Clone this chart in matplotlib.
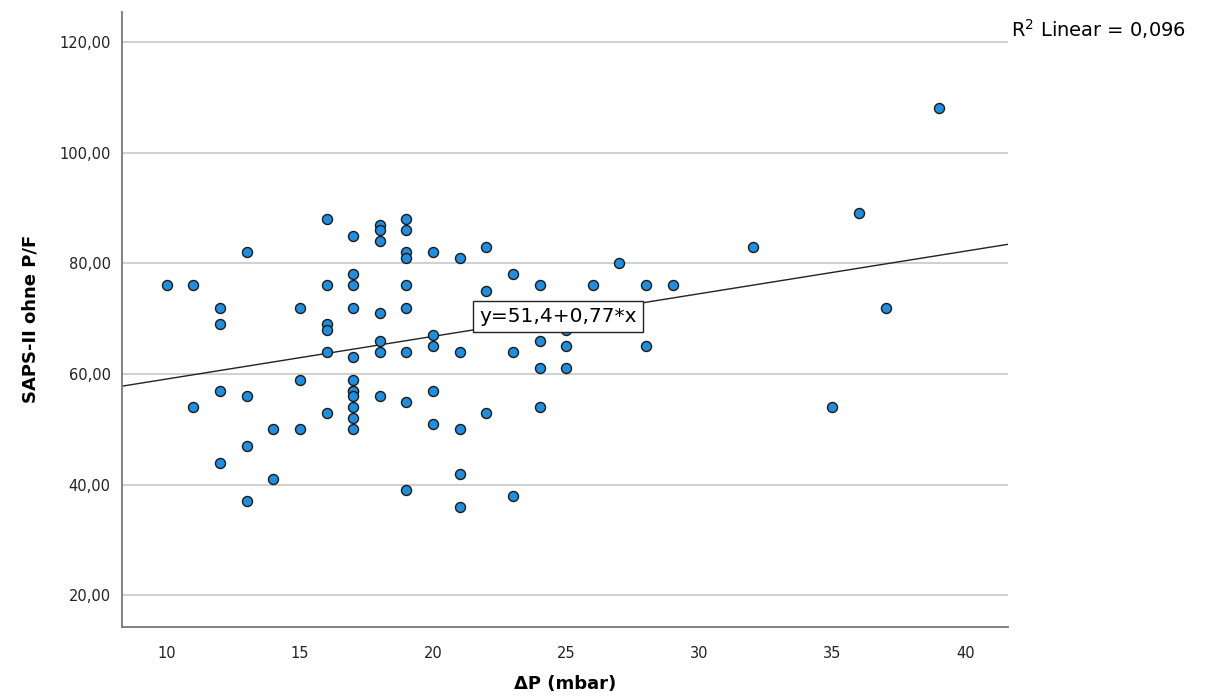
import matplotlib.pyplot as plt
from matplotlib.ticker import FuncFormatter

# Data (delta P in mbar, SAPS-II without P/F)
dp = [10,
      11, 11,
      12, 12, 12, 12,
      13, 13, 13, 13,
      14, 14,
      15, 15, 15,
      16, 16, 16, 16, 16, 16,
      17, 17, 17, 17, 17, 17, 17, 17, 17, 17, 17, 17,
      18, 18, 18, 18, 18, 18, 18,
      19, 19, 19, 19, 19, 19, 19, 19, 19,
      20, 20, 20, 20, 20,
      21, 21, 21, 21, 21,
      22, 22, 22,
      23, 23, 23,
      24, 24, 24, 24,
      25, 25, 25,
      26, 27, 28, 28, 29, 32, 35, 36, 37, 39]
saps = [76,
        76, 54,
        72, 69, 57, 44,
        82, 56, 47, 37,
        50, 41,
        72, 59, 50,
        88, 76, 69, 68, 64, 53,
        85, 78, 76, 72, 63, 59, 57, 57, 56, 54, 52, 50,
        87, 86, 84, 71, 66, 64, 56,
        88, 86, 82, 81, 76, 72, 64, 55, 39,
        82, 67, 65, 57, 51,
        81, 64, 50, 42, 36,
        83, 75, 53,
        78, 64, 38,
        76, 66, 61, 54,
        68, 65, 61,
        76, 80, 76, 65, 76, 83, 54, 89, 72, 108]

# Fit line as printed on the chart
intercept = 51.4
slope = 0.77
r2 = 0.096

x_ticks = [10, 15, 20, 25, 30, 35, 40]
y_ticks = [20, 40, 60, 80, 100, 120]

fig = plt.figure(figsize=(12.06, 7), dpi=100)
ax = fig.add_axes([0.101, 0.105, 0.735, 0.878])

ax.set_xlim(8.31, 41.6)
ax.set_ylim(14.4, 125.4)

ax.grid(axis='y', color='#c8c8c8', linewidth=1.2, zorder=0)
ax.set_axisbelow(True)

# regression line across full x-range
xl = ax.get_xlim()
ax.plot(xl, [intercept + slope * v for v in xl], color='#222222', linewidth=1, zorder=2)

ax.scatter(dp, saps, s=52, color='#1e8fe0', edgecolors='#1a1a1a', linewidths=1, zorder=3)

ax.set_xticks(x_ticks)
ax.set_yticks(y_ticks)
ax.yaxis.set_major_formatter(FuncFormatter(lambda v, p: f"{v:.2f}".replace('.', ',')))
ax.tick_params(length=0, labelsize=10.5, colors='#222222')
ax.tick_params(axis='x', pad=14)
ax.tick_params(axis='y', pad=8)

for s in ['top', 'right']:
    ax.spines[s].set_visible(False)
for s in ['left', 'bottom']:
    ax.spines[s].set_color('#777777')
    ax.spines[s].set_linewidth(1.3)

ax.set_xlabel('ΔP (mbar)', fontsize=13, fontweight='bold', va='center')
ax.set_ylabel('SAPS-II ohne P/F', fontsize=13, fontweight='bold', labelpad=14)
ax.xaxis.set_label_coords(0.5, -0.093)

# equation label on the line
xe = 24.7
ax.text(xe, intercept + slope * xe,
        f"y={intercept:.1f}+{slope:.2f}*x".replace('.', ','),
        fontsize=14.5, ha='center', va='center', zorder=4,
        bbox=dict(boxstyle='square,pad=0.3', facecolor='white', edgecolor='#222222', linewidth=1))

fig.text(0.838, 0.958, f"R$^2$ Linear = {r2:.3f}".replace('.', ','), fontsize=14, ha='left', va='center')

fig.savefig('out.png', dpi=100)
